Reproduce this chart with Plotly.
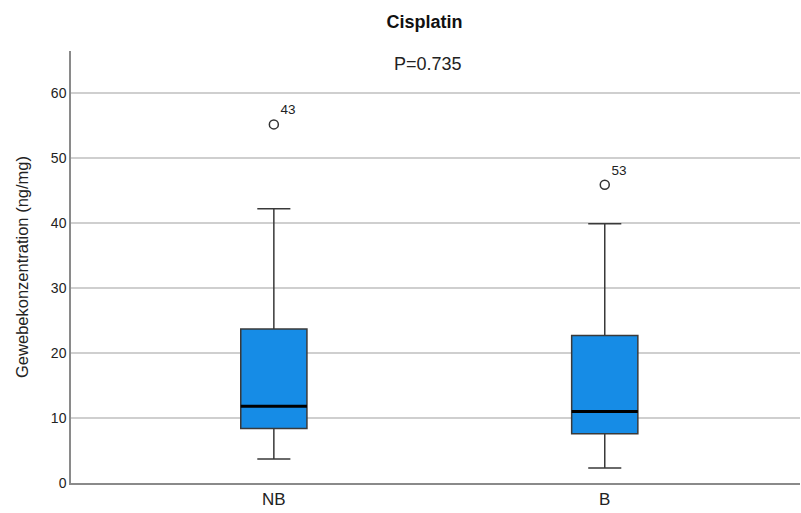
import plotly.graph_objects as go

categories = ["NB", "B"]
lower_whisker = [3.7, 2.3]
q1 = [8.4, 7.6]
median = [11.8, 11.0]
q3 = [23.7, 22.7]
upper_whisker = [42.2, 39.9]
outlier_values = [55.2, 45.9]
outlier_labels = ["43", "53"]
y_ticks = [0, 10, 20, 30, 40, 50, 60]

FONT = "Liberation Sans, Arial, sans-serif"

fig = go.Figure()
fig.add_trace(go.Box(
    x=categories, q1=q1, median=median, q3=q3,
    lowerfence=lower_whisker, upperfence=upper_whisker,
    width=0.2, whiskerwidth=0.5,
    fillcolor="#168CE6",
    line=dict(color="#3a3a3a", width=1.5),
    boxpoints=False, hoverinfo="skip", showlegend=False,
))
# thicker median lines
for i, m in enumerate(median):
    fig.add_shape(type="line", xref="x", yref="y",
                  x0=i - 0.1, x1=i + 0.1, y0=m, y1=m,
                  line=dict(color="black", width=3))
fig.add_trace(go.Scatter(
    x=categories, y=outlier_values, mode="markers+text",
    marker=dict(symbol="circle-open", size=9, color="#333", line=dict(width=1.5)),
    text=outlier_labels, textposition="top right",
    textfont=dict(family=FONT, size=13.5, color="#222"),
    showlegend=False, hoverinfo="skip",
))

fig.update_layout(
    width=801, height=513,
    margin=dict(l=71, r=1, t=51, b=30),
    paper_bgcolor="white", plot_bgcolor="white",
    font=dict(family=FONT, color="#222"),
    title=dict(text="<b>Cisplatin</b>", x=0.53, xanchor="center", y=0.957, yanchor="middle",
               font=dict(size=18, color="#111")),
    annotations=[dict(text="P=0.735", xref="paper", yref="paper", x=0.49, y=0.97,
                      xanchor="center", yanchor="middle", showarrow=False,
                      font=dict(size=18, color="#222"))],
    showlegend=False,
)
fig.update_xaxes(range=[-0.613, 1.59], showgrid=False, showline=True,
                 linecolor="#8a8a8a", linewidth=1.5, ticks="",
                 tickfont=dict(size=17, color="#222"), zeroline=False)
fig.update_yaxes(range=[0, 66.5], tickvals=y_ticks, showgrid=True,
                 gridcolor="#cfcfcf", gridwidth=1.5, showline=True,
                 linecolor="#8a8a8a", linewidth=1.5, ticks="", zeroline=False,
                 tickfont=dict(size=14, color="#222"),
                 title=dict(text="Gewebekonzentration (ng/mg)", standoff=18,
                            font=dict(size=16.5, color="#222")))

fig.write_html("out.html", config={"displayModeBar": False},
               post_script="document.body.style.margin='0';document.body.style.overflow='hidden';")
